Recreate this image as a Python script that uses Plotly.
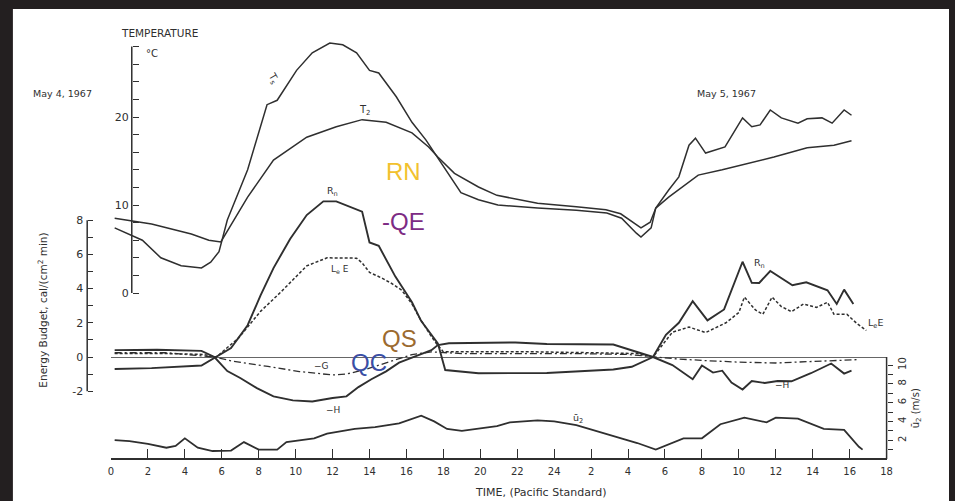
import plotly.graph_objects as go

# ---------------- data ----------------
# time in hours from 00h May 4 (24 = midnight, 42 = 18h May 5)
time_ticks = list(range(0, 43, 2))
time_ticklabels = [str(h if h <= 24 else h - 24) for h in time_ticks]

# surface temperature Ts (deg C)
ts_hours = [0.2, 1.7, 2.7, 3.8, 4.9, 5.4, 5.85, 6.3, 7.4, 8.45, 9.0, 10.05, 10.9, 11.85,
            12.55, 13.3, 14.0, 14.5, 15.45, 16.3, 17.05, 18.1, 18.95, 19.9, 20.95, 23.1,
            25.2, 26.85, 27.65, 28.45, 28.7, 29.25, 29.5, 30.2, 30.75, 31.3, 31.65, 32.2,
            32.75, 33.25, 34.2, 34.7, 35.15, 35.7, 36.3, 37.2, 37.7, 38.5, 39.05, 39.7, 40.1]
ts_temp = [7.4, 6.0, 4.0, 3.1, 2.85, 3.5, 4.7, 8.3, 14.0, 21.4, 21.9, 25.3, 27.3, 28.4,
           28.2, 27.3, 25.3, 25.0, 22.3, 19.4, 17.4, 14.0, 11.4, 10.6, 10.0, 9.65,
           9.4, 9.1, 8.5, 6.8, 6.35, 7.4, 9.65, 11.7, 13.2, 16.8, 17.6, 15.9,
           16.25, 16.6, 19.9, 18.9, 19.1, 20.8, 19.9, 19.3, 19.8, 19.9, 19.3, 20.8, 20.2]

# air temperature at 2 m, T2 (deg C)
t2_hours = [0.2, 2.2, 4.35, 5.3, 5.95, 6.6, 7.4, 8.8, 10.6, 12.2, 13.6, 14.9, 16.3, 17.2,
            17.7, 18.6, 19.5, 19.9, 20.9, 23.1, 25.2, 26.8, 27.6, 28.4, 28.7, 29.2, 29.5,
            30.2, 31.1, 31.8, 33.1, 34.7, 35.9, 37.7, 39.15, 40.1]
t2_temp = [8.5, 7.85, 6.7, 6.0, 5.8, 8.1, 10.9, 15.1, 17.7, 18.9, 19.7, 19.4, 18.2, 16.6,
           15.45, 13.6, 12.5, 12.05, 11.1, 10.2, 9.8, 9.45, 9.0, 7.85, 7.4, 8.05, 9.65,
           10.9, 12.3, 13.4, 14.0, 14.8, 15.45, 16.5, 16.8, 17.3]

# net radiation Rn (cal/(cm2 min))
rn_hours = [0.2, 2.2, 4.9, 5.5, 6.5, 7.4, 8.1, 8.8, 9.7, 10.6, 11.5, 12.2, 13.6, 14.0,
            14.5, 15.4, 16.3, 16.8, 17.6, 17.7, 18.1, 19.9, 23.6, 27.2, 28.2, 29.35,
            30.05, 30.75, 31.5, 32.3, 33.2, 34.2, 34.7, 35.1, 35.7, 36.9, 37.65, 38.8,
            39.3, 39.7, 40.2]
rn_vals = [-0.7, -0.65, -0.5, -0.1, 0.52, 1.86, 3.6, 5.2, 6.9, 8.3, 9.1, 9.1, 8.5, 6.7,
           6.5, 4.7, 3.2, 2.1, 1.0, 0.8, -0.76, -0.95, -0.94, -0.73, -0.57, 0.0,
           1.3, 2.0, 3.26, 2.14, 2.78, 5.57, 4.34, 4.33, 5.03, 4.2, 4.37, 3.9,
           3.1, 3.94, 3.1]

# latent heat flux LeE
le_hours = [0.2, 3.0, 5.0, 5.7, 6.9, 8.1, 9.2, 10.1, 10.6, 11.7, 13.3, 13.6, 14.0, 14.7,
            15.2, 15.75, 16.3, 16.7, 17.0, 17.35, 17.6, 18.0, 20.0, 23.0, 26.0, 28.5,
            29.35, 30.4, 31.3, 32.2, 33.3, 34.0, 34.3, 34.9, 35.3, 35.8, 36.3, 36.85,
            37.5, 38.2, 38.8, 39.15, 39.85, 40.4, 40.9]
le_vals = [0.2, 0.2, 0.15, 0.0, 1.1, 2.67, 3.8, 4.75, 5.33, 5.8, 5.78, 5.5, 4.95, 4.6,
           4.3, 3.9, 3.1, 2.3, 1.77, 1.2, 0.82, 0.3, 0.3, 0.3, 0.25, 0.2,
           0.0, 1.45, 1.75, 1.43, 2.0, 2.6, 3.5, 2.75, 2.5, 3.5, 2.95, 2.65,
           3.1, 2.9, 3.2, 2.5, 2.5, 1.95, 1.55]

# sensible heat flux, plotted as -H
h_hours = [0.2, 2.5, 4.9, 5.6, 6.3, 7.0, 7.9, 8.8, 9.85, 10.9, 12.0, 12.75, 13.4, 14.1,
           14.9, 15.6, 16.3, 17.35, 17.7, 18.3, 21.9, 23.6, 27.2, 28.1, 29.35, 30.4,
           31.5, 32.0, 32.6, 33.1, 33.6, 34.2, 34.7, 35.4, 36.1, 36.85, 37.9, 39.0,
           39.7, 40.1]
h_vals = [0.4, 0.42, 0.36, 0.0, -0.82, -1.23, -1.82, -2.3, -2.54, -2.6, -2.4, -2.3, -1.76, -1.3,
          -0.84, -0.33, -0.04, 0.4, 0.7, 0.8, 0.85, 0.76, 0.73, 0.43, 0.0, -0.47,
          -1.3, -0.5, -0.91, -0.8, -1.5, -1.9, -1.4, -1.52, -1.4, -1.42, -0.95, -0.38,
          -0.97, -0.8]

# soil heat flux, plotted as -G
g_hours = [0.2, 3.0, 5.6, 6.6, 8.5, 10.2, 12.0, 12.75, 13.8, 15.2, 16.3, 17.35, 19.0,
           22.0, 25.0, 28.0, 29.35, 30.5, 32.0, 34.0, 36.0, 38.0, 40.5]
g_vals = [0.25, 0.25, 0.0, -0.25, -0.55, -0.85, -1.05, -1.0, -0.72, -0.26, 0.14, 0.3, 0.2,
          0.2, 0.2, 0.15, 0.0, -0.1, -0.2, -0.3, -0.35, -0.25, -0.15]

# mean wind speed at 2 m, u2 (m/s)
u2_hours = [0.2, 1.0, 2.0, 3.0, 3.5, 4.0, 4.7, 5.5, 6.5, 7.2, 8.0, 9.0, 9.5, 11.0, 11.7,
            13.2, 14.3, 15.6, 16.8, 17.5, 18.2, 19.0, 20.9, 21.6, 23.1, 24.0, 25.2, 27.0,
            28.5, 29.5, 31.0, 32.0, 33.0, 34.3, 35.5, 36.0, 37.2, 38.6, 39.7, 40.5, 40.7]
u2_vals = [2.0, 1.9, 1.6, 1.2, 1.4, 2.2, 1.2, 0.85, 0.9, 1.8, 1.0, 1.0, 1.8, 2.2, 2.7,
           3.2, 3.4, 3.8, 4.6, 4.0, 3.2, 3.0, 3.5, 3.9, 4.1, 4.0, 3.6, 2.6,
           1.7, 1.0, 2.2, 2.2, 3.7, 4.4, 3.9, 4.4, 4.3, 3.2, 3.1, 1.3, 1.0]

# axis ticks: labelled majors and unlabelled minors
temp_ticks = [0, 10, 20]
temp_minor = [t for t in range(0, 29, 2) if t % 10 != 0]
energy_ticks = [-2, 0, 2, 4, 6, 8]
energy_minor = [-1, 1, 3, 5, 7]
wind_ticks = [2, 4, 6, 8, 10]
wind_minor = [1, 3, 5, 7, 9]

# ---------------- page geometry (pixels) ----------------
W, H = 955, 501
INK = "#2f2f2f"
FONT = "DejaVu Sans"


def fx(p):
    return p / W


def fy(p):
    return 1 - p / H


def yrange(zero_px, px_per_unit):
    return [-(H - zero_px) / px_per_unit, zero_px / px_per_unit]


X_LEFT, X_RIGHT = 109, 892
TIME_AXIS_Y = 459
T_ZERO, T_PX = 293, 8.8
E_ZERO, E_PX = 357, 17.1
U_ZERO, U_PX = 459, 9.4

fig = go.Figure()


def curve(x, y, axis, width=1.7, dash="solid"):
    fig.add_trace(go.Scatter(x=x, y=y, mode="lines", yaxis=axis, xaxis="x",
                             line=dict(color=INK, width=width, dash=dash),
                             hoverinfo="skip", showlegend=False))


curve(ts_hours, ts_temp, "y", 1.5)
curve(t2_hours, t2_temp, "y", 1.5)
curve(rn_hours, rn_vals, "y2", 1.9)
curve(le_hours, le_vals, "y2", 1.5, "3px,2px")
curve(h_hours, h_vals, "y2", 1.9)
curve(g_hours, g_vals, "y2", 1.3, "7px,3px,2px,3px")
curve(u2_hours, u2_vals, "y3", 1.8)

tick_font = dict(family=FONT, size=10, color=INK)


def minor_ticks(vals, ticks, length):
    return dict(tickvals=vals, ticks=ticks, ticklen=length, tickwidth=1.2,
                tickcolor=INK, showgrid=False)


fig.update_layout(
    width=W, height=H,
    margin=dict(l=0, r=0, t=0, b=0),
    paper_bgcolor="#231f20",
    plot_bgcolor="rgba(0,0,0,0)",
    xaxis=dict(domain=[fx(X_LEFT), fx(X_RIGHT)], range=[0, 42], anchor="free",
               position=fy(TIME_AXIS_Y), showline=True, linecolor=INK, linewidth=1.6,
               ticks="inside", ticklen=9, tickwidth=1.3, tickcolor=INK,
               tickvals=time_ticks, ticktext=time_ticklabels, tickfont=tick_font,
               ticklabelstandoff=3, showgrid=False, zeroline=False),
    yaxis=dict(domain=[0, 1], range=yrange(T_ZERO, T_PX), anchor="free",
               position=fx(130), side="left", showline=False, ticks="inside",
               ticklen=6, tickwidth=1.2, tickcolor=INK, tickvals=temp_ticks,
               ticktext=[str(t) for t in temp_ticks],
               minor=minor_ticks(temp_minor + [28], "inside", 6),
               tickfont=dict(family=FONT, size=11, color=INK),
               ticklabelstandoff=3, showgrid=False, zeroline=False),
    yaxis2=dict(overlaying="y", range=yrange(E_ZERO, E_PX), anchor="free",
                position=fx(85), side="left", showline=False, ticks="inside",
                ticklen=5, tickwidth=1.2, tickcolor=INK, tickvals=energy_ticks,
                ticktext=[str(e) for e in energy_ticks],
                minor=minor_ticks(energy_minor, "inside", 5),
                tickfont=dict(family=FONT, size=11, color=INK),
                ticklabelstandoff=4, showgrid=False, zeroline=True,
                zerolinecolor="#666666", zerolinewidth=1),
    yaxis3=dict(overlaying="y", range=yrange(U_ZERO, U_PX), anchor="free",
                position=fx(X_RIGHT), side="right", showline=False, ticks="outside",
                ticklen=5, tickwidth=1.2, tickcolor=INK, tickvals=wind_ticks,
                ticktext=[str(w) for w in wind_ticks],
                minor=minor_ticks(wind_minor, "outside", 5),
                tickangle=-90, tickfont=tick_font,
                ticklabelstandoff=1, showgrid=False, zeroline=False),
)

# white page and axis spines
shapes = [
    dict(type="rect", xref="paper", yref="paper", x0=fx(10), x1=1, y0=0, y1=fy(9),
         fillcolor="white", line=dict(width=0), layer="below"),
    dict(type="line", xref="paper", yref="y", x0=fx(130), x1=fx(130), y0=0, y1=28,
         line=dict(color=INK, width=1.5)),
    dict(type="line", xref="paper", yref="y2", x0=fx(85), x1=fx(85), y0=-2, y1=8,
         line=dict(color=INK, width=1.5)),
    dict(type="line", xref="paper", yref="paper", x0=fx(X_RIGHT), x1=fx(X_RIGHT),
         y0=fy(TIME_AXIS_Y), y1=fy(E_ZERO), line=dict(color=INK, width=1.5)),
]
fig.update_layout(shapes=shapes)


def note(text, x, y, size=10, angle=0, color=INK, family=FONT):
    fig.add_annotation(text=text, x=fx(x), y=fy(y), xref="paper", yref="paper",
                       showarrow=False, textangle=angle, xanchor="center", yanchor="middle",
                       font=dict(family=family, size=size, color=color))


note("TEMPERATURE", 158, 33, 10.5)
note("°C", 150, 53, 10)
note("May 4, 1967", 60, 93, 9.5)
note("May 5, 1967", 730, 94, 9.5)
note("Energy Budget, cal/(cm<sup>2</sup> min)", 39, 310, 10.5, -90)
note("TIME, (Pacific Standard)", 543, 492, 11)
note("ū<sub>2</sub> (m/s)", 922, 408, 10, -90)

# curve labels
note("T<sub>s</sub>", 273, 78, 10, 60)
note("T<sub>2</sub>", 365, 111, 10)
note("R<sub>n</sub>", 333, 191, 9.5)
note("L<sub>e</sub> E", 340, 269, 9)
note("−G", 322, 366, 9)
note("−H", 333, 410, 9)
note("ū<sub>2</sub>", 580, 418, 9.5)
note("R<sub>n</sub>", 764, 263, 9.5)
note("L<sub>e</sub>E", 881, 323, 9.5)
note("−H", 786, 385, 9)

# colour-coded energy terms
LABEL_FONT = "Liberation Sans"
note("RN", 404, 172, 24, color="#f2c12e", family=LABEL_FONT)
note("-QE", 404, 222, 24, color="#7d2b84", family=LABEL_FONT)
note("QS", 400, 338, 24, color="#9c6a2f", family=LABEL_FONT)
note("QC", 369, 362, 24, color="#3a4ea5", family=LABEL_FONT)

fig.write_html("out.html")
